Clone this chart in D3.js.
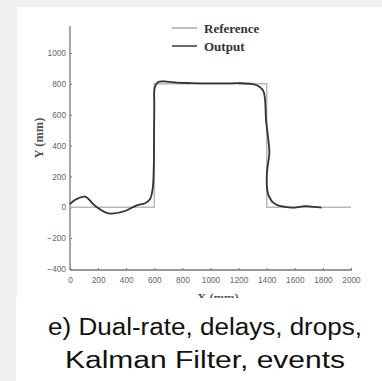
<!DOCTYPE html>
<html><head><meta charset="utf-8">
<script src="https://cdn.jsdelivr.net/npm/d3@7"></script>
<style>html,body{margin:0;padding:0;background:#f0f0f0;overflow:hidden}</style>
</head><body>
<svg id="c" width="382" height="381"></svg>
<script>
const xTicks = [0,200,400,600,800,1000,1200,1400,1600,1800,2000];
const yTicks = [-400,-200,0,200,400,600,800,1000];
const refX = [0,600,600,1400,1400,2000];
const refY = [0,0,800,800,0,0];
const outX = [0,40,107,178,273,391,475,534,569,588,596,598,600,604,628,688,760,854,1000,1100,1210,1300,1340,1376,1388,1395,1410,1419,1404,1400,1403,1411,1435,1447,1480,1518,1589,1640,1684,1740,1790];
const outY = [20,50,69,10,-39,-24,13,26,52,117,250,450,650,780,812,815,808,805,803,803,804,798,786,754,700,570,450,354,246,181,117,84,41,30,12,5,-2,4,8,2,-2];
const legendLabels = ["Reference","Output"];
const caption = ["e) Dual-rate, delays, drops,","Kalman Filter, events"];

const svg = d3.select("#c");
svg.append("rect").attr("x",17).attr("y",7).attr("width",365).attr("height",291).attr("fill","#fff");
svg.append("rect").attr("x",16).attr("y",298).attr("width",366).attr("height",83).attr("fill","#fff");

const x = d3.scaleLinear().domain([0,2000]).range([70,351]);
const y = d3.scaleLinear().domain([-400,1000]).range([269,53]);

const axisCol = "#777";
const ya = svg.append("g").attr("transform","translate(70,0)")
  .call(d3.axisLeft(y).tickValues(yTicks).tickSize(-2).tickPadding(4).tickFormat(d3.format("d")));
ya.select(".domain").remove();
svg.append("line").attr("x1",70).attr("x2",70).attr("y1",26).attr("y2",270).attr("stroke",axisCol).attr("stroke-width",1.3);
const xa = svg.append("g").attr("transform","translate(0,270)")
  .call(d3.axisBottom(x).tickValues(xTicks).tickSize(-2).tickPadding(7).tickFormat(d3.format("d")));
xa.select(".domain").remove();
svg.append("line").attr("x1",70).attr("x2",352).attr("y1",270).attr("y2",270).attr("stroke",axisCol).attr("stroke-width",1.3);
[ya,xa].forEach(g=>{
  g.selectAll("line").attr("stroke",axisCol);
  g.selectAll("text").attr("fill","#666").style("font-family","Liberation Sans, Arial").style("font-size","8.3px");
});

const line = d3.line().x(d=>x(d[0])).y(d=>y(d[1]));
svg.append("path").datum(refX.map((v,i)=>[v,refY[i]])).attr("d",line)
  .attr("fill","none").attr("stroke","#b8b8b8").attr("stroke-width",1.5);
const cline = d3.line().x(d=>x(d[0])).y(d=>y(d[1])).curve(d3.curveCatmullRom.alpha(0.5));
svg.append("path").datum(outX.map((v,i)=>[v,outY[i]])).attr("d",cline)
  .attr("fill","none").attr("stroke","#333").attr("stroke-width",1.8);

svg.append("text").attr("transform","translate(39,138) rotate(-90)").attr("text-anchor","middle")
  .attr("dy","0.35em").style("font-family","Liberation Serif, serif").style("font-weight","bold")
  .style("font-size","12.5px").attr("fill","#555").text("Y (mm)");
svg.append("clipPath").attr("id","cl").append("rect").attr("x",0).attr("y",0).attr("width",382).attr("height",298);
svg.append("text").attr("x",218).attr("y",302).attr("text-anchor","middle").attr("clip-path","url(#cl)")
  .style("font-family","Liberation Serif, serif").style("font-weight","bold")
  .style("font-size","12.5px").attr("fill","#555").text("X (mm)");

const lcol = ["#b0b0b0","#444"];
legendLabels.forEach((t,i)=>{
  const ly = 28 + i*18;
  svg.append("line").attr("x1",172).attr("x2",197).attr("y1",ly).attr("y2",ly).attr("stroke",lcol[i]).attr("stroke-width",1.6);
  svg.append("text").attr("x",204).attr("y",ly).attr("dy","0.35em")
    .style("font-family","Liberation Serif, serif").style("font-weight","bold").style("font-size","13px")
    .attr("fill","#333").text(t);
});

const capLen = [314, 280];
caption.forEach((t,i)=>{
  svg.append("text").attr("x",205).attr("y",327+i*33).attr("dy","0.35em").attr("text-anchor","middle")
    .attr("textLength",capLen[i]).attr("lengthAdjust","spacingAndGlyphs")
    .style("font-family","Liberation Sans, Arial").style("font-size","23px").attr("fill","#111").text(t);
});
</script>
</body></html>
